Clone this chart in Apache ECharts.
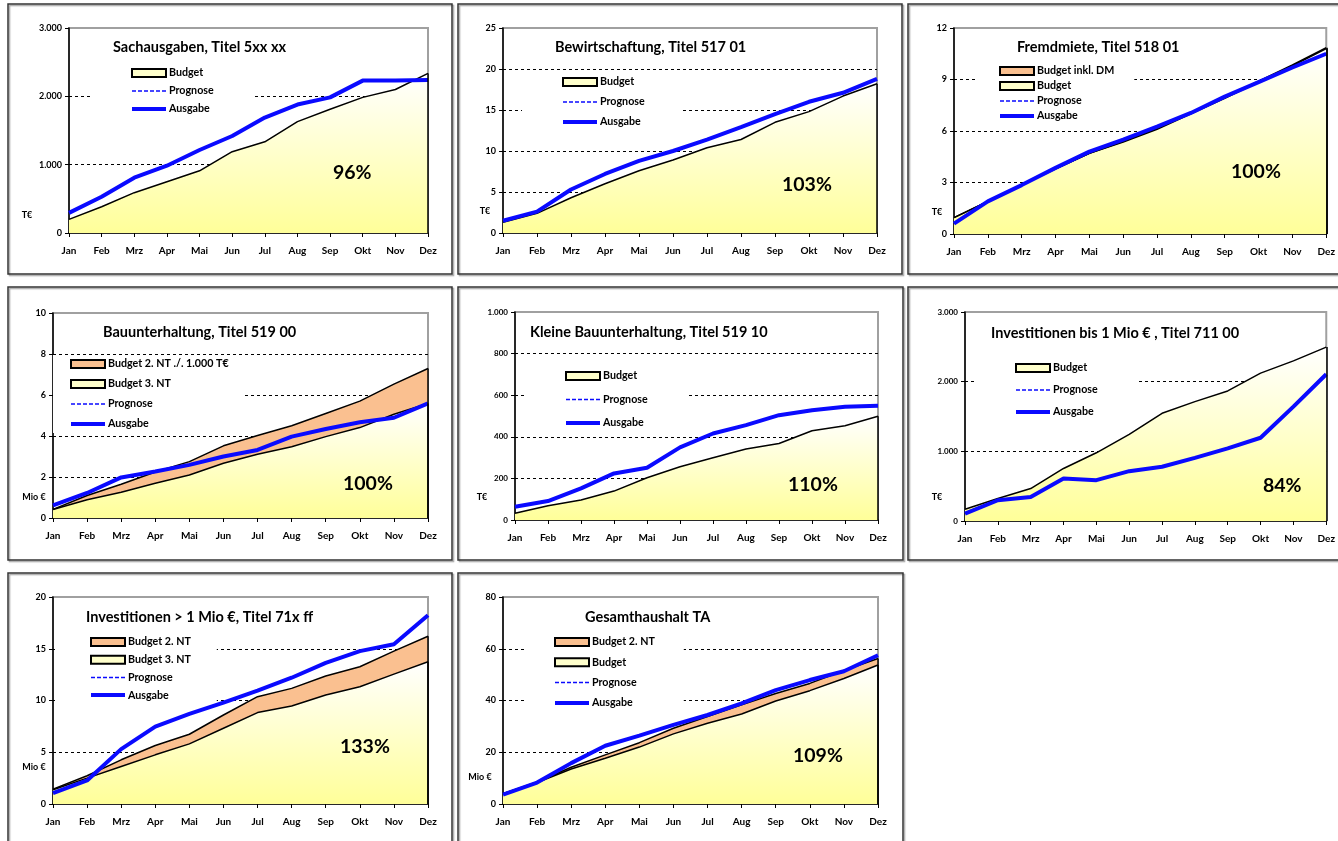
<!DOCTYPE html>
<html><head><meta charset="utf-8">
<script src="https://cdn.jsdelivr.net/npm/echarts@6/dist/echarts.min.js"></script>
<style>html,body{margin:0;padding:0;background:#fff}#c{width:1338px;height:841px}</style>
</head><body><div id="c"></div><script>
const months = ['Jan','Feb','Mrz','Apr','Mai','Jun','Jul','Aug','Sep','Okt','Nov','Dez'];
const titles = ['Sachausgaben, Titel 5xx xx','Bewirtschaftung, Titel 517 01','Fremdmiete, Titel 518 01',
  'Bauunterhaltung, Titel 519 00','Kleine Bauunterhaltung, Titel 519 10','Investitionen bis 1 Mio € , Titel 711 00',
  'Investitionen > 1 Mio €, Titel 71x ff','Gesamthaushalt TA'];
const percents = ['96%','103%','100%','100%','110%','84%','133%','109%'];
const units = ['T€','T€','T€','Mio €','T€','T€','Mio €','Mio €'];
const yMax = [3000,25,12,10,1000,3000,20,80];
const yStep = [1000,5,3,2,200,1000,5,20];

// 1 Sachausgaben
const sachBudget  = [200,385,590,750,910,1190,1335,1630,1810,1985,2100,2335];
const sachAusgabe = [295,530,810,985,1215,1420,1690,1880,1985,2230,2230,2240];
// 2 Bewirtschaftung
const bewBudget  = [1.3,2.4,4.3,6.0,7.6,8.9,10.4,11.4,13.5,14.8,16.7,18.2];
const bewAusgabe = [1.5,2.6,5.3,7.2,8.8,10.0,11.4,12.9,14.5,16.0,17.1,18.8];
// 3 Fremdmiete
const fremdBudgetDM = [0.95,1.9,2.85,3.8,4.7,5.4,6.15,7.05,7.95,8.9,9.85,10.85];
const fremdBudget   = [0.95,1.9,2.85,3.8,4.7,5.35,6.1,7.0,7.9,8.85,9.8,10.8];
const fremdAusgabe  = [0.6,1.9,2.85,3.85,4.8,5.5,6.25,7.05,8.0,8.85,9.7,10.5];
// 4 Bauunterhaltung
const bauBudget2 = [0.42,1.1,1.65,2.24,2.75,3.52,4.02,4.5,5.1,5.7,6.53,7.29];
const bauBudget3 = [0.41,0.89,1.26,1.7,2.1,2.67,3.11,3.48,3.97,4.41,5.06,5.59];
const bauAusgabe = [0.62,1.22,1.98,2.27,2.59,3.0,3.32,3.97,4.34,4.67,4.89,5.59];
// 5 Kleine Bauunterhaltung
const kleinBudget  = [32,69,96,139,203,256,299,341,368,429,453,499];
const kleinAusgabe = [64,91,152,224,251,349,416,456,504,528,544,549];
// 6 Investitionen bis 1 Mio
const inv1Budget  = [168,322,466,754,979,1243,1546,1714,1867,2122,2299,2496];
const inv1Ausgabe = [106,298,346,610,586,715,778,907,1042,1195,1642,2107];
// 7 Investitionen > 1 Mio
const inv2Budget2 = [1.44,2.73,4.27,5.65,6.74,8.6,10.37,11.17,12.36,13.26,14.77,16.21];
const inv2Budget3 = [1.38,2.5,3.63,4.75,5.81,7.32,8.83,9.47,10.53,11.33,12.55,13.74];
const inv2Ausgabe = [1.06,2.28,5.3,7.48,8.7,9.79,10.95,12.2,13.64,14.77,15.44,18.23];
// 8 Gesamthaushalt
const gesBudget2 = [4.0,8.5,14.2,19.0,23.7,29.3,33.8,38.3,42.7,46.6,51.6,56.2];
const gesBudget  = [4.0,8.3,13.5,17.7,22.0,27.1,31.2,34.8,39.8,43.8,48.5,53.7];
const gesAusgabe = [3.6,8.3,15.8,22.5,26.4,30.6,34.4,38.9,44.0,47.9,51.3,57.5];

const F = 'Lato, "Open Sans", sans-serif';
const YELLOW = {type:'linear',x:0,y:0,x2:0,y2:1,colorStops:[{offset:0,color:'#ffffff'},{offset:1,color:'#ffff99'}]};
const ORANGE = '#fac090';
const BLUE = '#0a0aff';

const panels = [
 {box:[8,4,444,270], grid:[69,28,359,205], lab:9, unitPos:[27,215], titlePos:[113,47], pctPos:[333,173],
  legend:{x:130,y:73,gap:18,pad:[4,41,4,38]},
  ser:[['Budget',sachBudget,'y'],['Prognose',[],'p'],['Ausgabe',sachAusgabe,'a']]},
 {box:[458,4,444,270], grid:[503,28,374,205], lab:9, unitPos:[485,211], titlePos:[555,47], pctPos:[782,185],
  legend:{x:561,y:82,gap:20,pad:[4,38,4,39]},
  ser:[['Budget',bewBudget,'y'],['Prognose',[],'p'],['Ausgabe',bewAusgabe,'a']]},
 {box:[908,4,440,270], grid:[954,28,374,206], lab:9, unitPos:[937,212], titlePos:[1017,47], pctPos:[1231,172],
  legend:{x:998,y:71,gap:15,pad:[3,20,3,21]},
  ser:[['Budget inkl. DM',fremdBudgetDM,'o'],['Budget',fremdBudget,'y'],['Prognose',[],'p'],['Ausgabe',fremdAusgabe,'a']]},
 {box:[8,287,444,273], grid:[53,313,375,205], lab:9, unitPos:[34,497], titlePos:[103,332], pctPos:[343,484],
  legend:{x:69,y:364,gap:20,pad:[3,16,3,16]},
  ser:[['Budget 2. NT ./. 1.000 T€',bauBudget2,'o'],['Budget 3. NT',bauBudget3,'y'],['Prognose',[],'p'],['Ausgabe',bauAusgabe,'a']]},
 {box:[458,287,445,273], grid:[515,312,363,208], lab:8, unitPos:[482,497], titlePos:[530,332], pctPos:[788,485],
  legend:{x:564,y:376,gap:23.5,pad:[3,39,3,38]},
  ser:[['Budget',kleinBudget,'y'],['Prognose',[],'p'],['Ausgabe',kleinAusgabe,'a']]},
 {box:[908,287,440,273], grid:[965,312,363,209], lab:8, unitPos:[937,497], titlePos:[991,333], pctPos:[1263,486],
  legend:{x:1014,y:368,gap:22,pad:[3,40,3,38]},
  ser:[['Budget',inv1Budget,'y'],['Prognose',[],'p'],['Ausgabe',inv1Ausgabe,'a']]},
 {box:[8,573,444,290], grid:[53,597,375,207], lab:9, unitPos:[34,767], titlePos:[86,617], pctPos:[340,747],
  legend:{x:89,y:642,gap:17.7,pad:[3,26,4,34]},
  ser:[['Budget 2. NT',inv2Budget2,'o'],['Budget 3. NT',inv2Budget3,'y'],['Prognose',[],'p'],['Ausgabe',inv2Ausgabe,'a']]},
 {box:[458,573,445,290], grid:[503,597,375,207], lab:9, unitPos:[480,777], titlePos:[585,617], pctPos:[793,756],
  legend:{x:553,y:642,gap:20.3,pad:[4,29,4,28]},
  ser:[['Budget 2. NT',gesBudget2,'o'],['Budget',gesBudget,'y'],['Prognose',[],'p'],['Ausgabe',gesAusgabe,'a']]}
];

function fmt(v){ return String(v).replace(/\B(?=(\d{3})+(?!\d))/g,'.'); }

const option = {animation:false, backgroundColor:'#fff', grid:[], xAxis:[], yAxis:[], series:[], legend:[], graphic:[]};

panels.forEach((p,i)=>{
  option.graphic.push({type:'rect', z:-10, shape:{x:p.box[0],y:p.box[1],width:p.box[2],height:p.box[3]},
    style:{fill:'none',stroke:'#333',lineWidth:1.5, shadowColor:'rgba(0,0,0,0.35)', shadowOffsetX:1.5, shadowOffsetY:1.5, shadowBlur:1}});
  option.grid.push({left:p.grid[0], top:p.grid[1], width:p.grid[2], height:p.grid[3], show:true,
    borderColor:'#a0a0a0', borderWidth:2, backgroundColor:'transparent'});
  option.xAxis.push({gridIndex:i, type:'category', data:months, boundaryGap:false,
    axisLine:{lineStyle:{color:'#000',width:1.5}},
    axisTick:{show:true,length:4,lineStyle:{color:'#000',width:1}},
    axisLabel:{fontFamily:F,fontWeight:'bold',fontSize:10,color:'#000',margin:13, interval:0},
    splitLine:{show:false}});
  option.yAxis.push({gridIndex:i, type:'value', min:0, max:yMax[i], interval:yStep[i],
    axisLine:{show:true,lineStyle:{color:'#000',width:1.5}},
    axisTick:{show:true,length:4,lineStyle:{color:'#000',width:1}},
    axisLabel:{fontFamily:F,fontWeight:'bold',fontSize:p.lab,color:'#000',margin:7, formatter:fmt},
    splitLine:{show:true, showMinLine:false, showMaxLine:false, lineStyle:{color:'#000',width:1,type:[3,3]}}});
  const items = [];
  p.ser.forEach(([name,data,kind])=>{
    const s = {name, type:'line', xAxisIndex:i, yAxisIndex:i, data, symbol:'none', silent:true};
    if (kind==='y' || kind==='o') {
      s.lineStyle = {color:'#000', width:1.5};
      s.areaStyle = {color: kind==='y' ? YELLOW : ORANGE, opacity:1};
      s.z = 2;
      const last = data.length - 1;
      s.markLine = {silent:true, symbol:'none', label:{show:false}, lineStyle:{color:'#000',width:1.5,type:'solid'},
        data:[[{coord:[last,0]},{coord:[last,data[last]]}]]};
      items.push({name, icon:'rect', itemStyle:{color: kind==='y' ? '#ffffcc' : ORANGE, borderColor:'#000', borderWidth:2}});
    } else if (kind==='p') {
      s.lineStyle = {color:BLUE, width:1.5, type:[4,2]};
      s.z = 3;
      items.push({name, itemStyle:{color:'rgba(0,0,0,0)',borderWidth:0}, lineStyle:{color:BLUE,width:1.5,type:[4,2]}});
    } else {
      s.lineStyle = {color:BLUE, width:4};
      s.z = 4;
      items.push({name, itemStyle:{color:'rgba(0,0,0,0)',borderWidth:0}, lineStyle:{color:BLUE,width:4,type:'solid'}});
    }
    option.series.push(s);
  });
  const L = p.legend;
  option.legend.push({orient:'vertical', left:L.x - L.pad[3], top:L.y - 6 - L.pad[0], itemWidth:34, itemHeight:8,
    itemGap:L.gap - 12, padding:L.pad, backgroundColor:'#fff', selectedMode:false,
    textStyle:{fontFamily:F,fontWeight:'bold',fontSize:10.7,color:'#000',lineHeight:12, padding:[0,0,0,-2]},
    data:items});
  option.graphic.push({type:'text', z:10, x:p.titlePos[0], y:p.titlePos[1],
    style:{text:titles[i], font:'bold 14.5px '+F, fill:'#000', verticalAlign:'middle', align:'left'}});
  option.graphic.push({type:'text', z:10, x:p.pctPos[0], y:p.pctPos[1],
    style:{text:percents[i], font:'bold 19.5px '+F, fill:'#000', verticalAlign:'middle', align:'left'}});
  option.graphic.push({type:'text', z:10, x:p.unitPos[0], y:p.unitPos[1],
    style:{text:units[i], font:'bold 9px '+F, fill:'#000', verticalAlign:'middle', align:'center'}});
});

const chart = echarts.init(document.getElementById('c'), null, {renderer:'canvas'});
chart.setOption(option);
</script></body></html>
